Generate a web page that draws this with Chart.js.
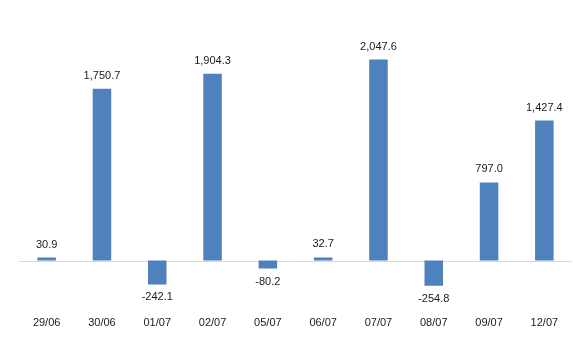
<!DOCTYPE html>
<html><head><meta charset="utf-8">
<script src="https://cdn.jsdelivr.net/npm/chart.js@4/dist/chart.umd.min.js"></script>
<style>html,body{margin:0;padding:0;background:#fff}#wrap{width:573px;height:348px}</style>
</head><body><div id="wrap"><canvas id="c"></canvas></div>
<script>
const categories = ['29/06','30/06','01/07','02/07','05/07','06/07','07/07','08/07','09/07','12/07'];
const values = [30.9, 1750.7, -242.1, 1904.3, -80.2, 32.7, 2047.6, -254.8, 797.0, 1427.4];
const labelFont = '11px "Liberation Sans", Arial, sans-serif';
const textColor = '#1a1a1a';

const fmt = v => v.toLocaleString('en-US',{minimumFractionDigits:1,maximumFractionDigits:1});

const labelsPlugin = {
  id:'valLabels',
  afterDatasetsDraw(chart){
    const ctx = chart.ctx;
    const meta = chart.getDatasetMeta(0);
    ctx.save();
    ctx.font = labelFont;
    ctx.fillStyle = textColor;
    ctx.textAlign = 'center';
    ctx.textBaseline = 'middle';
    meta.data.forEach((bar,i)=>{
      const v = values[i];
      const y = v >= 0 ? bar.y - 13 : bar.y + 13;
      ctx.fillText(fmt(v), bar.x, y);
    });
    ctx.restore();
  },
  beforeDatasetsDraw(chart){
    const ctx = chart.ctx;
    const a = chart.chartArea;
    const y0 = Math.round(chart.scales.y.getPixelForValue(0)) + 0.5;
    ctx.save();
    ctx.strokeStyle = '#d9d9d9';
    ctx.lineWidth = 1;
    ctx.beginPath();
    ctx.moveTo(a.left, y0);
    ctx.lineTo(a.right, y0);
    ctx.stroke();
    ctx.restore();
  }
};

new Chart(document.getElementById('c'), {
  type:'bar',
  data:{labels:categories, datasets:[{data:values, backgroundColor:'#4f81bd', barPercentage:0.335, categoryPercentage:1}]},
  options:{
    responsive:true, maintainAspectRatio:false, animation:false,
    layout:{padding:{left:19,right:1,top:25,bottom:6}},
    plugins:{legend:{display:false}, tooltip:{enabled:false}},
    scales:{
      x:{grid:{display:false, drawTicks:false}, border:{display:false},
         ticks:{font:{family:'"Liberation Sans", Arial, sans-serif', size:11}, color:textColor, padding:12, maxRotation:0}},
      y:{display:false, min:-450, max:2400}
    }
  },
  plugins:[labelsPlugin]
});
</script></body></html>
